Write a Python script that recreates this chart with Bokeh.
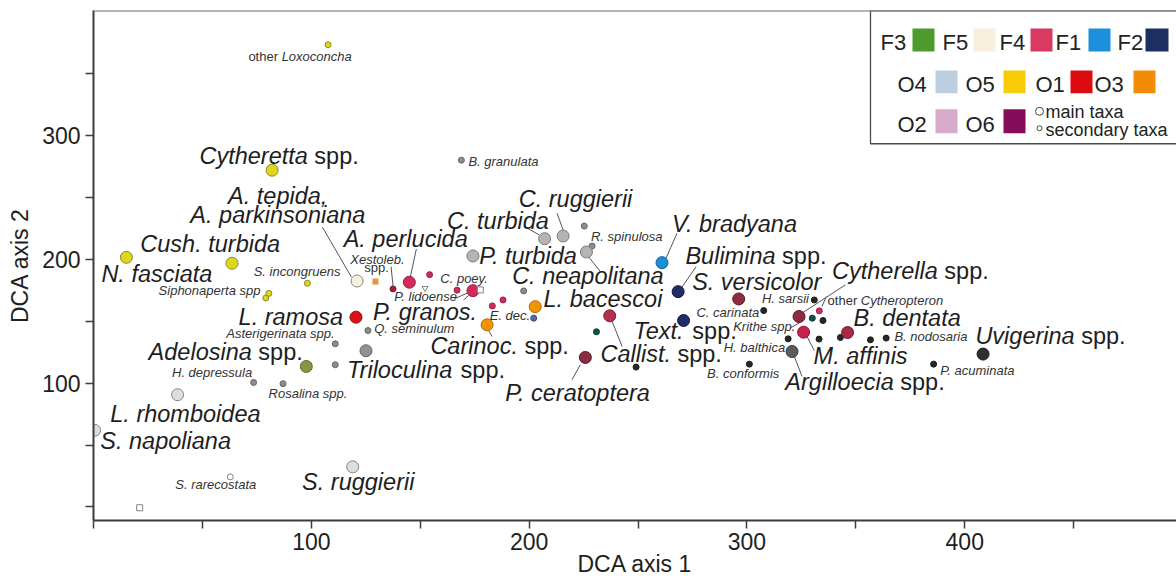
from bokeh.plotting import figure
from bokeh.models import Range1d, FixedTicker, Span, ColumnDataSource
from bokeh.core.properties import value
from bokeh.embed import file_html
from bokeh.resources import INLINE

# ---------------------------------------------------------------- data
taxa = [
    "other Loxoconcha", "Cytheretta spp.", "B. granulata", "Cush. turbida", "N. fasciata",
    "S. incongruens", "Siphonaperta spp.", "taxon a", "A. tepida, A. parkinsoniana", "Xestoleb. spp.",
    "taxon b", "A. perlucida", "C. poey.", "P. lidoense", "taxon c",
    "P. granos.", "taxon d", "taxon e", "taxon f", "L. ramosa",
    "Q. seminulum", "Asterigerinata spp.", "Triloculina spp.", "taxon g", "Adelosina spp.",
    "H. depressula", "Rosalina spp.", "L. rhomboidea", "S. napoliana", "S. ruggierii",
    "S. rarecostata", "taxon h", "P. turbida", "C. turbida", "C. ruggierii",
    "R. spinulosa", "taxon i", "C. neapolitana", "V. bradyana", "Bulimina spp.",
    "Text. spp.", "L. bacescoi", "E. dec.", "taxon j", "Carinoc. spp.",
    "taxon k", "Callist. spp.", "P. ceratoptera", "taxon l", "taxon m",
    "C. carinata", "H. balthica", "Argilloecia spp.", "B. conformis", "Cytherella spp.",
    "M. affinis", "taxon n", "taxon o", "other Cytheropteron", "H. sarsii",
    "taxon p", "taxon q", "B. dentata", "taxon r", "B. nodosaria",
    "P. acuminata", "Uvigerina spp.",
]
dca1 = [
    107.7, 82.0, 168.9, 63.6, 15.1,
    98.2, 79.1, 80.5, 121.0, 129.4,
    137.5, 145.0, 154.3, 152.2, 166.9,
    174.2, 177.6, 188.0, 183.1, 120.5,
    126.0, 111.0, 125.1, 111.0, 97.7,
    73.5, 87.0, 38.6, 0.5, 119.0,
    62.8, 21.2, 174.2, 207.1, 215.6,
    225.3, 228.9, 226.3, 261.0, 268.4,
    270.9, 202.8, 202.1, 197.5, 180.7,
    230.9, 237.0, 225.8, 249.1, 296.2,
    307.7, 318.9, 320.7, 301.1, 323.9,
    326.0, 330.0, 334.9, 333.2, 330.9,
    333.1, 342.9, 346.2, 356.7, 363.9,
    385.7, 408.4,
]
dca2 = [
    373.1, 271.8, 279.9, 196.7, 201.5,
    180.6, 168.7, 172.4, 182.4, 181.9,
    176.0, 181.4, 187.5, 176.6, 175.0,
    174.6, 175.2, 167.1, 162.3, 153.2,
    142.4, 131.7, 126.1, 114.8, 113.4,
    100.5, 99.5, 90.6, 61.9, 32.4,
    24.3, -0.6, 202.6, 216.5, 218.7,
    226.7, 210.6, 205.8, 197.2, 173.8,
    150.5, 161.7, 152.4, 174.4, 147.0,
    141.4, 154.3, 120.7, 112.9, 167.9,
    158.5, 135.7, 125.5, 115.3, 153.7,
    141.1, 152.4, 150.5, 158.3, 167.1,
    135.5, 136.8, 140.8, 134.9, 136.3,
    115.3, 123.4,
]
group = [
    "yellow", "yellow", "grey2", "yellow", "yellow",
    "yellow", "yellow", "yellow", "cream", "xest",
    "crimson_d", "F4", "F4", "white", "F4",
    "F4", "white", "F4", "F4", "O1",
    "grey2", "grey2", "dgrey", "grey2", "olive",
    "grey2", "grey2", "pale", "pale", "pale",
    "white", "white", "grey", "grey", "grey",
    "grey2", "grey2", "grey", "F1", "F2",
    "F2", "O3", "bluegrey", "grey2", "O3",
    "teal", "callist", "maroon", "black", "maroon",
    "black", "black", "dark", "black", "maroon",
    "affinis", "teal", "black", "F4", "black",
    "black", "black", "dentata", "black", "black",
    "black", "vdark",
]
kind = [
    "secondary", "main", "secondary", "main", "main",
    "secondary", "secondary", "secondary", "main", "secondary",
    "secondary", "main", "secondary", "secondary", "secondary",
    "main", "secondary", "secondary", "secondary", "main",
    "secondary", "secondary", "main", "secondary", "main",
    "secondary", "secondary", "main", "main", "main",
    "secondary", "secondary", "main", "main", "main",
    "secondary", "secondary", "main", "main", "main",
    "main", "main", "secondary", "secondary", "main",
    "secondary", "main", "main", "secondary", "main",
    "secondary", "secondary", "main", "secondary", "main",
    "main", "secondary", "secondary", "secondary", "secondary",
    "secondary", "secondary", "main", "secondary", "secondary",
    "secondary", "main",
]
shape = ["circle"] * len(taxa)
shape[9] = "square"
shape[13] = "inverted_triangle"
shape[16] = "square"
shape[31] = "square"

legend_codes = ["F3", "F5", "F4", "F1", "F2", "O4", "O5", "O1", "O3", "O2", "O6"]
legend_colors = ["#4f9a2c", "#f7eedb", "#d93a62", "#1d8fdb", "#1b2f62",
                 "#bccfe1", "#f7cb05", "#db0b0f", "#f28b05", "#d6abcb", "#870b5b"]

x_ticks = [0, 50, 100, 150, 200, 250, 300, 350, 400, 450]
y_ticks = [0, 50, 100, 150, 200, 250, 300, 350]

# ---------------------------------------------------------------- styles
STYLE = {
    "yellow": ("#dcd81e", "#8c8a22"), "cream": ("#f4f1e2", "#8a8a78"),
    "grey": ("#b4b4b4", "#7a7a7a"), "grey2": ("#8c8c8c", "#666666"),
    "pale": ("#dedede", "#858585"), "dgrey": ("#919191", "#666666"),
    "F4": ("#d42a5b", "#9a1f42"), "crimson_d": ("#a8203f", "#7a1830"),
    "O1": ("#da1016", "#961010"), "O3": ("#f29300", "#b06a10"),
    "F1": ("#1b8fd6", "#10609a"), "F2": ("#1f2c68", "#10183e"),
    "maroon": ("#8c2b41", "#5c1a2a"), "callist": ("#b3304d", "#7a1a34"),
    "affinis": ("#c9204d", "#8a1534"), "dentata": ("#a52a45", "#6e1a2e"),
    "dark": ("#5c5c5c", "#3a3a3a"), "vdark": ("#2e2e2e", "#1a1a1a"),
    "black": ("#272727", "#1a1a1a"), "teal": ("#0f5444", "#0a3a2e"),
    "olive": ("#8a9442", "#5f6a2a"), "bluegrey": ("#5a6aa0", "#3c4a78"),
    "white": ("#ffffff", "#808080"), "xest": ("#e39252", "#f0c8a0"),
}
SIZE = {"main": 12, "secondary": 6}
FONT = "Liberation Sans"
LABEL_FS = {"big": 23.5, "small": 13}
BASELINE_SHIFT = 0.32  # em; lifts text so its baseline sits on the anchor

# canvas / frame geometry
W, H = 1176, 579
LEFT, TOP, BOTTOM = 93, 10, 58
FRAME_W, FRAME_H = W - LEFT, H - TOP - BOTTOM
X0, X1 = 0.0, 497.2
Y0, Y1 = -10.9, 400.7
SX = FRAME_W / (X1 - X0)
SY = FRAME_H / (Y1 - Y0)


def px_x(px):
    return X0 + (px - LEFT) / SX


def px_y(py):
    return Y1 - (py - TOP) / SY


def base_y(py, fs):
    """data y for a text whose baseline should sit at canvas row py"""
    return px_y(py - BASELINE_SHIFT * fs)


# Arial-metric advance widths, used to chain italic and upright parts of a label
ADV = dict(zip("abcdefghijklmnopqrstuvwxyz",
               [556, 556, 500, 556, 556, 278, 556, 556, 222, 222, 500, 222, 833,
                556, 556, 556, 556, 333, 500, 278, 556, 500, 722, 500, 500, 500]))
ADV.update(zip("ABCDEFGHIJKLMNOPQRSTUVWXYZ",
               [667, 667, 722, 722, 667, 611, 778, 722, 278, 500, 667, 556, 833,
                722, 778, 667, 778, 722, 667, 611, 722, 667, 944, 667, 667, 611]))
ADV.update({" ": 278, ".": 278, ",": 278})


def text_width(s, fs):
    return sum(ADV.get(c, 556) for c in s) * fs / 1000.0


# label placement: point index, parts (text, italic), size, offset to baseline-left (px),
# optional leader line (px offsets from the point)
LABELS = [
    (1, [("Cytheretta", 1), (" spp.", 0)], "big", -72.7, -7, None),
    (8, [("A. tepida,", 1)], "big", -129, -78, None),
    (8, [("A. parkinsoniana", 1)], "big", -166.7, -58.3, (-34.7, -54, -5.7, -4)),
    (3, [("Cush. turbida", 1)], "big", -91.7, -11.6, None),
    (4, [("N. fasciata", 1)], "big", -25, 24.4, None),
    (11, [("A. perlucida", 1)], "big", -65.7, -35.6, (7, -33.3, 1, -5.3)),
    (32, [("P. turbida", 1)], "big", 6.3, 7.3, None),
    (33, [("C. turbida", 1)], "big", -97.6, -10.4, (-17.3, -10.7, -5.3, -3.7)),
    (34, [("C. ruggierii", 1)], "big", -44.4, -30, (-6, -22.7, 0, -6)),
    (38, [("V. bradyana", 1)], "big", 10, -31.7, (15, -29.4, 4, -4.4)),
    (39, [("Bulimina", 1), (" spp.", 0)], "big", 7.3, -28.4, (18, -25, 3, -3.4)),
    (39, [("S. versicolor", 1)], "big", 14, -1.7, None),
    (37, [("C. neapolitana", 1)], "big", -74.3, 31.5, (0.7, 3, 14, 19.7)),
    (41, [("L. bacescoi", 1)], "big", 8.3, 0, None),
    (15, [("P. granos.", 1)], "big", -100, 29.3, (-9.4, 9.3, -4.4, 5)),
    (19, [("L. ramosa", 1)], "big", -117.4, 7, None),
    (40, [("Text.", 1), (" spp.", 0)], "big", -50, 17.6, None),
    (44, [("Carinoc.", 1), (" spp.", 0)], "big", -56.7, 28.3, (5, 11.7, 0, 3.3)),
    (46, [("Callist.", 1), (" spp.", 0)], "big", -9.3, 45.7, (12.4, 30.7, 2.4, 5.7)),
    (22, [("Triloculina", 1), (" spp.", 0)], "big", -19, 27.3, None),
    (24, [("Adelosina", 1), (" spp.", 0)], "big", -157.7, -6.7, None),
    (47, [("P. ceratoptera", 1)], "big", -80, 43, (-13.3, 22.3, -5, 7.3)),
    (27, [("L. rhomboidea", 1)], "big", -67.3, 26.7, None),
    (28, [("S. napoliana", 1)], "big", 5.7, 18.6, None),
    (29, [("S. ruggierii", 1)], "big", -50.6, 22.7, None),
    (54, [("Cytherella", 1), (" spp.", 0)], "big", 33, -38.4, (46.3, -31.7, 3, -3.4)),
    (62, [("B. dentata", 1)], "big", 6, -7, None),
    (55, [("M. affinis", 1)], "big", 10, 31.7, (3.4, 4.4, 10.7, 18.4)),
    (52, [("Argilloecia", 1), (" spp.", 0)], "big", -6.7, 38.3, (1.6, 3.3, 10, 25)),
    (66, [("Uvigerina", 1), (" spp.", 0)], "big", -7.7, -11, None),
    (0, [("other ", 0), ("Loxoconcha", 1)], "small", -79.7, 16.4, None),
    (2, [("B. granulata", 1)], "small", 7, 5, None),
    (5, [("S. incongruens", 1)], "small", -53.7, -7.6, None),
    (6, [("Siphonaperta spp", 1)], "small", -107.2, -3, None),
    (9, [("Xestoleb.", 1)], "small", -25, -17.7, (15.7, -15, 17.7, 4.3)),
    (9, [("spp.", 0)], "small", -11, -10, None),
    (12, [("C. poey.", 1)], "small", 10.7, 8, None),
    (13, [("P. lidoense", 1)], "small", -30.7, 12.4, (29.3, 10.7, 42, 5)),
    (20, [("Q. seminulum", 1)], "small", 6.3, 2, None),
    (42, [("E. dec.", 1)], "small", -44, 1, None),
    (35, [("R. spinulosa", 1)], "small", 6.7, 14.7, None),
    (21, [("Asterigerinata spp.", 1)], "small", -109, -6.3, None),
    (25, [("H. depressula", 1)], "small", -81.6, -6, None),
    (26, [("Rosalina spp.", 1)], "small", -14.4, 14.3, None),
    (30, [("S. rarecostata", 1)], "small", -55, 12, None),
    (59, [("H. sarsii", 1)], "small", -52.3, 2.3, None),
    (50, [("C. carinata", 1)], "small", -67.3, 6, None),
    (51, [("Krithe spp.", 1)], "small", -55, -8.3, (2.3, -11, 11.3, -16)),
    (51, [("H. balthica", 1)], "small", -64.4, 12.7, None),
    (53, [("B. conformis", 1)], "small", -42.3, 14, None),
    (58, [("other ", 0), ("Cytheropteron", 1)], "small", 8.3, -6.7, (7, -14.3, 2.7, -4.3)),
    (64, [("B. nodosaria", 1)], "small", 8.3, 2.7, None),
    (65, [("P. acuminata", 1)], "small", 6.7, 10.7, None),
]

# ---------------------------------------------------------------- figure
p = figure(width=W, height=H, x_range=Range1d(X0, X1), y_range=Range1d(Y0, Y1),
           output_backend="svg", toolbar_location=None,
           min_border_left=LEFT, min_border_right=0, min_border_top=TOP,
           min_border_bottom=BOTTOM)
p.background_fill_color = "white"
p.border_fill_color = "white"
p.outline_line_color = None
p.xgrid.visible = False
p.ygrid.visible = False

for ax, ticks, standoff in ((p.xaxis[0], x_ticks, 4), (p.yaxis[0], y_ticks, 5)):
    ax.ticker = FixedTicker(ticks=ticks)
    ax.major_label_overrides = {t: "" for t in ticks if t == 0 or t % 100}
    ax.axis_line_color = "#3c3c3c"
    ax.axis_line_width = 2
    ax.major_tick_line_color = "#3c3c3c"
    ax.major_tick_line_width = 1.5
    ax.major_tick_out = 8
    ax.major_tick_in = 0
    ax.minor_tick_out = 0
    ax.minor_tick_in = 0
    ax.major_label_text_font = FONT
    ax.major_label_text_font_size = "23px"
    ax.major_label_text_color = "#1e1e1e"
    ax.major_label_standoff = standoff
    ax.axis_label_text_font = FONT
    ax.axis_label_text_font_size = "23px"
    ax.axis_label_text_font_style = "normal"
    ax.axis_label_text_color = "#1e1e1e"

p.yaxis[0].axis_label = "DCA axis 2"
p.yaxis[0].axis_label_standoff = 6
p.xaxis[0].axis_label = "DCA axis 1"
p.xaxis[0].axis_label_standoff = -2

p.add_layout(Span(location=Y1, dimension="width", line_color="#6b6b6b", line_width=2))

# leader lines
lead = dict(x0=[], y0=[], x1=[], y1=[])
for idx, parts, size, dx, dy, ld in LABELS:
    if ld:
        lead["x0"].append(dca1[idx] + ld[0] / SX)
        lead["y0"].append(dca2[idx] - ld[1] / SY)
        lead["x1"].append(dca1[idx] + ld[2] / SX)
        lead["y1"].append(dca2[idx] - ld[3] / SY)
p.segment("x0", "y0", "x1", "y1", source=ColumnDataSource(lead),
          line_color="#555555", line_width=1)

# taxa
pts = ColumnDataSource(dict(
    x=dca1, y=dca2, marker=shape,
    size=[SIZE[k] for k in kind],
    fill=[STYLE[g][0] for g in group],
    line=[STYLE[g][1] for g in group],
))
p.scatter("x", "y", source=pts, marker="marker", size="size",
          fill_color="fill", line_color="line", line_width=1)

# labels, split by size and slant; spaces are turned into offsets
space = ADV[" "] / 1000.0
buckets = {}
for idx, parts, size, dx, dy, ld in LABELS:
    fs = LABEL_FS[size]
    lx = dca1[idx] + dx / SX
    ly = dca2[idx] - (dy - BASELINE_SHIFT * fs) / SY
    off = 0.0
    for txt, ital in parts:
        off += (len(txt) - len(txt.lstrip())) * space * fs
        core = txt.strip()
        b = buckets.setdefault((size, ital), dict(x=[], y=[], text=[], xo=[]))
        b["x"].append(lx)
        b["y"].append(ly)
        b["text"].append(core)
        b["xo"].append(off)
        off += text_width(core, fs) + (len(txt.rstrip()) < len(txt)) * space * fs

for (size, ital), b in buckets.items():
    p.text("x", "y", text="text", x_offset="xo", source=ColumnDataSource(b),
           text_font=value(FONT), text_font_size=value("%spx" % LABEL_FS[size]),
           text_font_style="italic" if ital else "normal",
           text_color="#1e1e1e" if size == "big" else "#333333",
           text_align="left", text_baseline="alphabetic")

# legend panel
p.quad(left=[px_x(870)], right=[px_x(1185)], top=[px_y(10)], bottom=[px_y(143.5)],
       fill_color="white", line_color="#4a4a4a", line_width=1.3)

legend_layout = [  # text left, swatch left, swatch right, baseline, swatch top, swatch bottom
    (880, 912, 934, 49, 28, 51), (942, 973, 995, 49, 28, 51), (999, 1030, 1052, 49, 28, 51),
    (1055, 1088, 1110, 49, 28, 51), (1117, 1145, 1168, 49, 28, 51),
    (897, 935, 957, 91, 70, 93), (965, 1003, 1025, 91, 70, 93),
    (1035, 1070, 1092, 91, 70, 93), (1094, 1133, 1155, 91, 70, 93),
    (897, 935, 957, 131.5, 109, 133), (965, 1003, 1025, 131.5, 109, 133),
]
p.quad(left=[px_x(l[1]) for l in legend_layout], right=[px_x(l[2]) for l in legend_layout],
       top=[px_y(l[4]) for l in legend_layout], bottom=[px_y(l[5]) for l in legend_layout],
       fill_color=legend_colors, line_color=None)
p.text(x=[px_x(l[0]) for l in legend_layout], y=[base_y(l[3], 22) for l in legend_layout],
       text=legend_codes, text_font=value(FONT), text_font_size=value("22px"),
       text_color="#222222", text_baseline="alphabetic", text_align="left")
p.scatter(x=[px_x(1039), px_x(1039)], y=[px_y(111), px_y(128)], size=[8, 5],
          fill_color="white", line_color="#444444", line_width=1)
p.text(x=[px_x(1045), px_x(1045)], y=[base_y(117, 18), base_y(135, 18)],
       text=["main taxa", "secondary taxa"], text_font=value(FONT),
       text_font_size=value("18px"), text_color="#222222",
       text_baseline="alphabetic", text_align="left")

open("out.html", "w").write(file_html(p, INLINE))
